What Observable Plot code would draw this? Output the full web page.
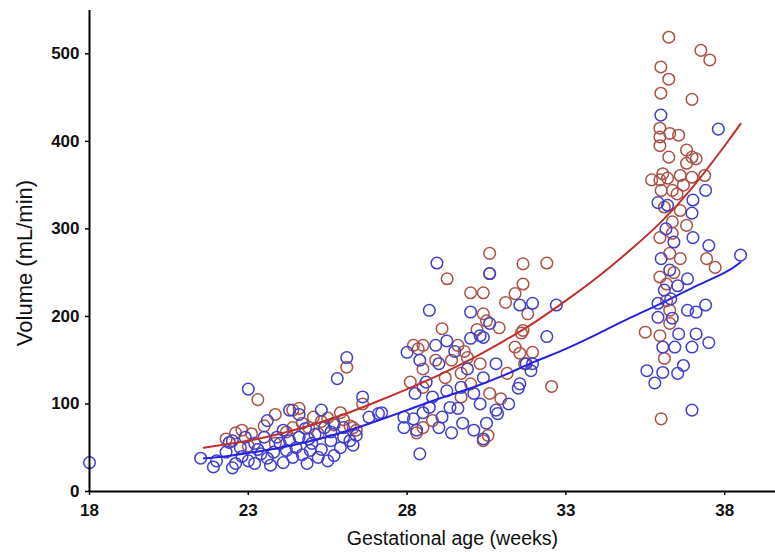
<!DOCTYPE html>
<html>
<head>
<meta charset="utf-8">
<script src="https://cdn.jsdelivr.net/npm/d3@7"></script>
<script src="https://cdn.jsdelivr.net/npm/@observablehq/plot@0.6"></script>
<style>
  html, body { margin: 0; padding: 0; background: #fff; }
  #chart svg { display: block; font-family: "Liberation Sans", Arial, sans-serif; }
</style>
</head>
<body>
<div id="chart"></div>
<script>
const xTicks = [18, 23, 28, 33, 38];
const yTicks = [0, 100, 200, 300, 400, 500];
const xLabel = "Gestational age (weeks)";
const yLabel = "Volume (mL/min)";

// Red series (open circles)
const redPoints = [
  [22.6,67],[23.1,66],[23.3,105],[23.5,75],[23.85,88],[23.85,55],[24.4,93],[24.4,73],[24.6,95],[24.9,73],
  [25.05,85],[25.3,80],[25.7,76],[25.9,90],[26.1,142],[26.2,75],[26.3,73],[26.4,70],[26.6,100],
  [22.3,60],[23.0,52],[24.2,68],[24.7,78],[25.5,84],[26.0,82],[25.2,66],[22.8,70],
  [28.2,167],[28.35,163],[28.5,167],[28.5,140],[28.1,125],[28.5,119],[28.5,73],[28.3,67],[28.8,81],
  [29.1,186],[29.26,243],[29.4,150],[29.6,167],[29.7,135],[29.7,108],[29.9,153],[30.0,227],[30.0,123],
  [30.3,146],[30.4,227],[30.4,203],[30.5,195],[30.55,64],[30.4,58],[30.6,272],[30.6,249],[30.6,112],
  [30.9,187],[30.95,106],[31.1,216],[31.15,135],[31.4,226],[31.4,165],[31.6,181],[31.65,260],[31.65,237],
  [31.65,184],[31.7,146],[31.8,203],[31.95,159],[31.55,158],[32.4,261],[32.55,120],[29.8,160],[29.2,130],
  [30.2,185],[28.9,150],
  [35.5,182],[35.7,356],[35.96,415],[35.96,405],[35.96,395],[35.96,356],[35.96,290],[35.96,245],[35.96,178],
  [35.99,485],[35.99,455],[36.0,344],[36.0,83],[36.05,363],[36.1,152],[36.17,237],[36.17,218],[36.24,519],
  [36.24,471],[36.24,382],[36.2,358],[36.27,409],[36.27,272],[36.27,207],[36.27,192],[36.35,344],[36.35,308],
  [36.35,295],[36.55,407],[36.6,361],[36.6,321],[36.6,266],[36.7,350],[36.8,390],[36.8,375],[36.8,304],
  [36.97,448],[36.97,382],[36.97,359],[37.1,380],[37.25,504],[37.37,361],[37.43,266],[37.53,493],[37.7,256],
  [36.1,325],[36.4,250],[36.5,340]
];

// Blue series (open circles)
const bluePoints = [
  [18.0,33],[21.5,38],[21.9,28],[22.0,35],[22.5,27],[22.5,58],[22.4,56],[22.75,50],[23.0,117],[23.2,32],
  [23.2,55],[23.4,43],[23.6,81],[23.7,30],[23.9,62],[24.1,33],[24.1,70],[24.2,47],[24.3,93],[24.4,39],
  [24.6,62],[24.85,32],[24.95,47],[25.2,39],[25.3,93],[25.4,73],[25.6,58],[25.7,41],[25.7,78],[25.8,129],
  [26.0,62],[26.1,153],[26.2,58],[26.3,53],[26.6,108],[26.8,85],[27.1,89],
  [22.3,45],[22.8,40],[23.0,35],[23.3,48],[23.5,62],[23.8,45],[24.0,55],[24.3,58],[24.5,50],[24.7,42],
  [24.8,72],[25.0,55],[25.1,65],[25.3,48],[25.5,35],[25.9,50],[26.0,73],[26.4,64],[24.6,88],[23.6,38],
  [22.6,32],[24.9,60],[25.6,68],[22.9,62],
  [27.2,90],[27.9,85],[27.9,73],[28.0,159],[28.2,83],[28.25,112],[28.3,70],[28.4,43],[28.7,207],[28.7,96],
  [28.8,108],[28.9,167],[28.94,261],[29.0,146],[29.0,73],[29.25,172],[29.25,115],[29.35,96],[29.4,67],
  [29.7,119],[29.75,78],[30.0,175],[30.0,205],[30.1,112],[30.1,70],[30.3,178],[30.4,176],[30.4,130],
  [30.4,60],[30.5,78],[30.6,249],[30.6,192],[30.8,146],[30.8,93],[30.85,89],[31.2,100],[31.5,118],
  [31.55,213],[31.55,123],[31.75,146],[31.9,138],[31.95,215],[31.95,146],[32.4,177],[32.7,213],
  [28.5,90],[29.1,85],[29.6,95],[28.6,125],[29.9,140],[29.5,160],[30.3,100],[28.4,150],
  [35.55,138],[35.8,124],[35.9,330],[35.9,215],[35.9,199],[35.99,430],[36.0,266],[36.05,165],[36.05,136],
  [36.2,327],[36.27,253],[36.35,198],[36.43,165],[36.52,235],[36.52,135],[36.55,180],[36.7,144],[36.83,243],
  [36.83,207],[36.97,318],[36.97,165],[36.97,93],[37.0,333],[37.0,290],[37.1,205],[37.1,180],[37.4,344],
  [37.4,213],[37.5,281],[37.5,170],[37.8,414],[38.5,270],[36.1,230],[36.3,220],[36.15,300],[36.4,285]
];

// Fitted curves
const redCurve = [
  [21.6,50],[23,58],[24,66],[25,76],[26,88],[27,102],[28,117],[29,133],[30,151],[31,171],[32,193],
  [33,218],[34,245],[35,275],[36,308],[37,348],[38,395],[38.5,420]
];
const blueCurve = [
  [21.6,38],[22,39],[23,44],[24,50],[25,58],[26,68],[27,80],[28,93],[29,106],[30,118],[31,132],
  [32,148],[33,163],[34,180],[35,198],[36,215],[37,233],[38,250],[38.5,262]
];

const red = "#ac5246";
const blue = "#4040cc";

const chart = Plot.plot({
  width: 775,
  height: 552,
  marginLeft: 89,
  marginTop: 10,
  marginBottom: 61,
  marginRight: 0,
  x: { domain: [18, 39.6] },
  y: { domain: [0, 549.5] },
  marks: [
    Plot.dot(redPoints, { x: d => d[0], y: d => d[1], r: 5.8, stroke: red, strokeWidth: 1.5, fill: "none" }),
    Plot.dot(bluePoints, { x: d => d[0], y: d => d[1], r: 5.8, stroke: blue, strokeWidth: 1.5, fill: "none" }),
    Plot.line(redCurve, { x: d => d[0], y: d => d[1], stroke: "#c0302a", strokeWidth: 2, curve: "natural" }),
    Plot.line(blueCurve, { x: d => d[0], y: d => d[1], stroke: "#2424e0", strokeWidth: 2, curve: "natural" }),
    Plot.axisX({ ticks: xTicks, tickSize: 4, tickPadding: 8, fontSize: 17, fontWeight: "bold", label: null, stroke: "#000", strokeWidth: 1.5, fill: "#111" }),
    Plot.axisY({ ticks: yTicks, tickSize: 4, tickPadding: 6, fontSize: 17, fontWeight: "bold", label: null, stroke: "#000", strokeWidth: 1.5, fill: "#111" }),
    Plot.ruleX([18], { stroke: "#000", strokeWidth: 2 }),
    Plot.ruleY([0], { stroke: "#000", strokeWidth: 2 }),
    Plot.text([xLabel], { text: d => d, frameAnchor: "bottom", textAnchor: "middle", dx: 20, dy: 53, fontSize: 19.6, fill: "#111" }),
    Plot.text([yLabel], { text: d => d, frameAnchor: "left", textAnchor: "middle", lineAnchor: "middle", rotate: -90, dx: -65, dy: 12, fontSize: 22, fill: "#111" })
  ]
});
document.getElementById("chart").appendChild(chart);
</script>
</body>
</html>
